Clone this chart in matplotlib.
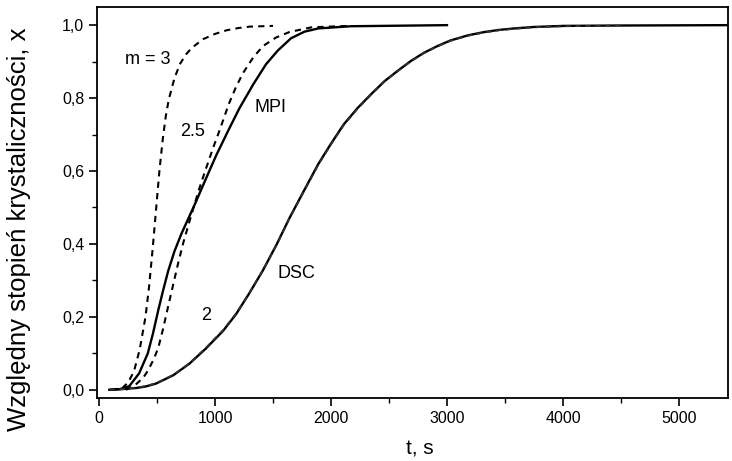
import matplotlib
matplotlib.use("Agg")
from matplotlib import pyplot as plt
from matplotlib.ticker import MultipleLocator, FuncFormatter

plt.rcParams['font.family'] = ['Liberation Sans', 'DejaVu Sans']

# krzywe
t_dsc = [90, 200, 320, 400, 490, 640, 780, 920, 1070, 1180, 1290, 1410, 1530, 1640, 1770,
         1890, 2000, 2110, 2230, 2350, 2460, 2580, 2690, 2800, 2920, 3030, 3180, 3320,
         3450, 3580, 3750, 4010, 4500, 5430]
x_dsc = [0.0, 0.002, 0.005, 0.009, 0.017, 0.040, 0.072, 0.113, 0.162, 0.207, 0.262, 0.326,
         0.398, 0.470, 0.548, 0.619, 0.675, 0.728, 0.773, 0.812, 0.846, 0.876, 0.902,
         0.924, 0.943, 0.958, 0.972, 0.981, 0.987, 0.991, 0.995, 0.998, 0.999, 1.0]

t_mpi = [90, 180, 260, 345, 420, 465, 510, 550, 595, 650, 710, 770, 830, 920, 1010, 1120,
         1210, 1330, 1440, 1540, 1655, 1770, 1890, 2170, 3000]
x_mpi = [0.0, 0.002, 0.010, 0.045, 0.100, 0.155, 0.218, 0.270, 0.325, 0.380, 0.428, 0.470,
         0.512, 0.578, 0.643, 0.715, 0.772, 0.838, 0.893, 0.930, 0.964, 0.982, 0.991,
         0.997, 1.0]

t_m3 = [100, 200, 250, 300, 350, 400, 430, 460, 490, 520, 550, 575, 600, 650, 700, 750,
        800, 900, 1000, 1100, 1200, 1300, 1500]
x_m3 = [0.0, 0.005, 0.02, 0.05, 0.11, 0.20, 0.28, 0.38, 0.49, 0.60, 0.69, 0.75, 0.795,
        0.855, 0.895, 0.92, 0.938, 0.962, 0.976, 0.986, 0.992, 0.996, 0.998]

t_m25 = [230, 300, 380, 420, 470, 510, 550, 595, 640, 680, 725, 770, 860, 920, 985, 1035,
         1120, 1180, 1240, 1330, 1415, 1525, 1640, 1830, 2150]
x_m25 = [0.0, 0.01, 0.033, 0.052, 0.083, 0.115, 0.165, 0.228, 0.290, 0.345, 0.402, 0.452,
         0.548, 0.605, 0.665, 0.708, 0.785, 0.830, 0.868, 0.912, 0.943, 0.966, 0.981,
         0.994, 0.998]

t_m2 = [90, 200, 320, 400, 490, 640, 780, 920, 1070, 1180, 1290, 1410, 1530, 1640, 1770,
        1890, 2000, 2110, 2230, 2350, 2460, 2580, 2690, 2800, 2920, 3030, 3180, 3320,
        3450, 3580, 3750, 4010, 4500]
x_m2 = [0.0, 0.002, 0.006, 0.010, 0.018, 0.041, 0.073, 0.115, 0.164, 0.209, 0.263, 0.326,
        0.397, 0.469, 0.546, 0.617, 0.673, 0.726, 0.771, 0.811, 0.845, 0.875, 0.901,
        0.923, 0.942, 0.957, 0.971, 0.980, 0.986, 0.990, 0.994, 0.997, 0.999]

labels = ["m = 3", "2.5", "MPI", "DSC", "2"]
label_t = [420, 810, 1480, 1700, 920]
label_x = [0.905, 0.707, 0.773, 0.32, 0.205]


def main():
    fig = plt.figure(figsize=(7.32, 4.61), dpi=100)
    ax = fig.add_axes([0.133, 0.137, 0.861, 0.848])

    dash = (0, (3.0, 2.5))
    ax.plot(t_dsc, x_dsc, color='black', lw=1.7)
    ax.plot(t_mpi, x_mpi, color='black', lw=1.7)
    ax.plot(t_m3, x_m3, color='black', lw=1.5, linestyle=dash)
    ax.plot(t_m25, x_m25, color='black', lw=1.5, linestyle=dash)
    ax.plot(t_m2, x_m2, color='#333333', lw=1.3, linestyle=dash)

    for s, tx, ty in zip(labels, label_t, label_x):
        ax.text(tx, ty, s, fontsize=13, ha='center', va='center')

    ax.set_xlim(-15, 5420)
    ax.set_ylim(-0.022, 1.05)
    ax.xaxis.set_major_locator(MultipleLocator(1000))
    ax.xaxis.set_minor_locator(MultipleLocator(500))
    ax.yaxis.set_major_locator(MultipleLocator(0.2))
    ax.yaxis.set_minor_locator(MultipleLocator(0.1))
    ax.yaxis.set_major_formatter(FuncFormatter(lambda v, p: ('%.1f' % v).replace('.', ',')))
    ax.tick_params(which='both', direction='out', top=False, right=False, labelsize=11.5)
    ax.tick_params(which='major', length=6, width=1.2)
    ax.tick_params(which='minor', length=3.5, width=1.0)
    for sp in ax.spines.values():
        sp.set_linewidth(1.3)

    ax.set_xlabel('t, s', fontsize=15)
    ax.set_ylabel('Względny stopień krystaliczności, x', fontsize=18.5)
    ax.xaxis.set_label_coords(0.512, -0.107)
    ax.yaxis.set_label_coords(-0.106, 0.43)

    fig.savefig('out.png', dpi=100)


main()
